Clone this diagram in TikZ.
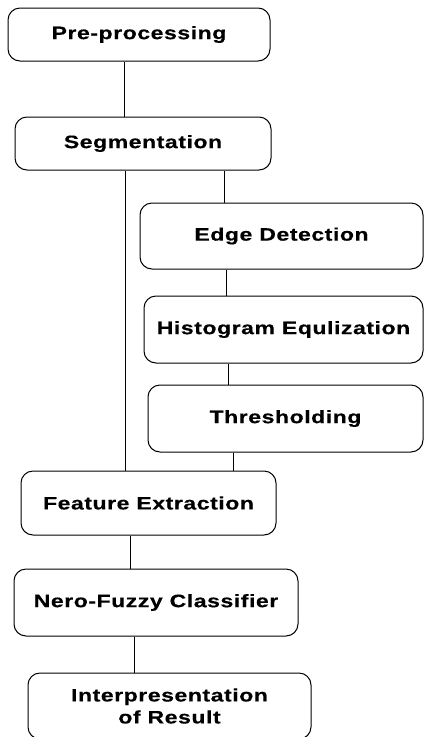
\documentclass[tikz,border=0pt]{standalone}
\usepackage{fontspec}
\newfontfamily\stagefont[FakeStretch=1.28,LetterSpace=3,FakeBold=0.4]{Liberation Sans}
\usepackage{tikz}
\usetikzlibrary{positioning}
\usetikzlibrary{calc}

\begin{document}
\begin{tikzpicture}[
    x=1pt, y=-1pt,
    stageBox/.style={
        rectangle, draw, rounded corners=12pt,
        line width=1pt,
        inner sep=0pt,
        font=\stagefont\bfseries\fontsize{18}{22}\selectfont,
        align=center
    },
    link/.style={line width=1pt}
]
\useasboundingbox (0,0) rectangle (424,737);
\clip (0,0) rectangle (424,737);
\node[stageBox, minimum width=262pt, minimum height=53pt] (pre) at (139,34.5) {Pre-processing};
\node[stageBox, minimum width=256pt, minimum height=53pt] (seg) at (143,143.5) {Segmentation};
\node[stageBox, minimum width=283pt, minimum height=66pt] (edge) at (281.5,236) {Edge Detection};
\node[stageBox, minimum width=279pt, minimum height=67pt] (hist) at (283.5,329.5) {Histogram Equlization};
\node[stageBox, minimum width=275pt, minimum height=67pt] (thr) at (285.5,418.5) {Thresholding};
\node[stageBox, minimum width=255pt, minimum height=64pt] (feat) at (148.5,503) {Feature Extraction};
\node[stageBox, minimum width=284pt, minimum height=67pt] (nero) at (156,602.5) {Nero-Fuzzy Classifier};
\node[stageBox, minimum width=283pt, minimum height=66pt] (interp) at (169.5,706) {Interpresentation\\of Result};
\draw[link] ([xshift=-15pt]pre.south) -- ([xshift=-15pt]pre.south |- seg.north);
\draw[link] ([xshift=81pt]seg.south) -- ([xshift=81pt]seg.south |- edge.north);
\draw[link] ([xshift=-18pt]seg.south) -- ([xshift=-18pt]seg.south |- feat.north);
\draw[link] ([xshift=-55.5pt]edge.south) -- ([xshift=-55.5pt]edge.south |- hist.north);
\draw[link] ([xshift=-55.5pt]hist.south) -- ([xshift=-55.5pt]hist.south |- thr.north);
\draw[link] ([xshift=-52.5pt]thr.south) -- ([xshift=-52.5pt]thr.south |- feat.north);
\draw[link] ([xshift=-18.5pt]feat.south) -- ([xshift=-18.5pt]feat.south |- nero.north);
\draw[link] ([xshift=-22pt]nero.south) -- ([xshift=-22pt]nero.south |- interp.north);
\end{tikzpicture}
\end{document}
